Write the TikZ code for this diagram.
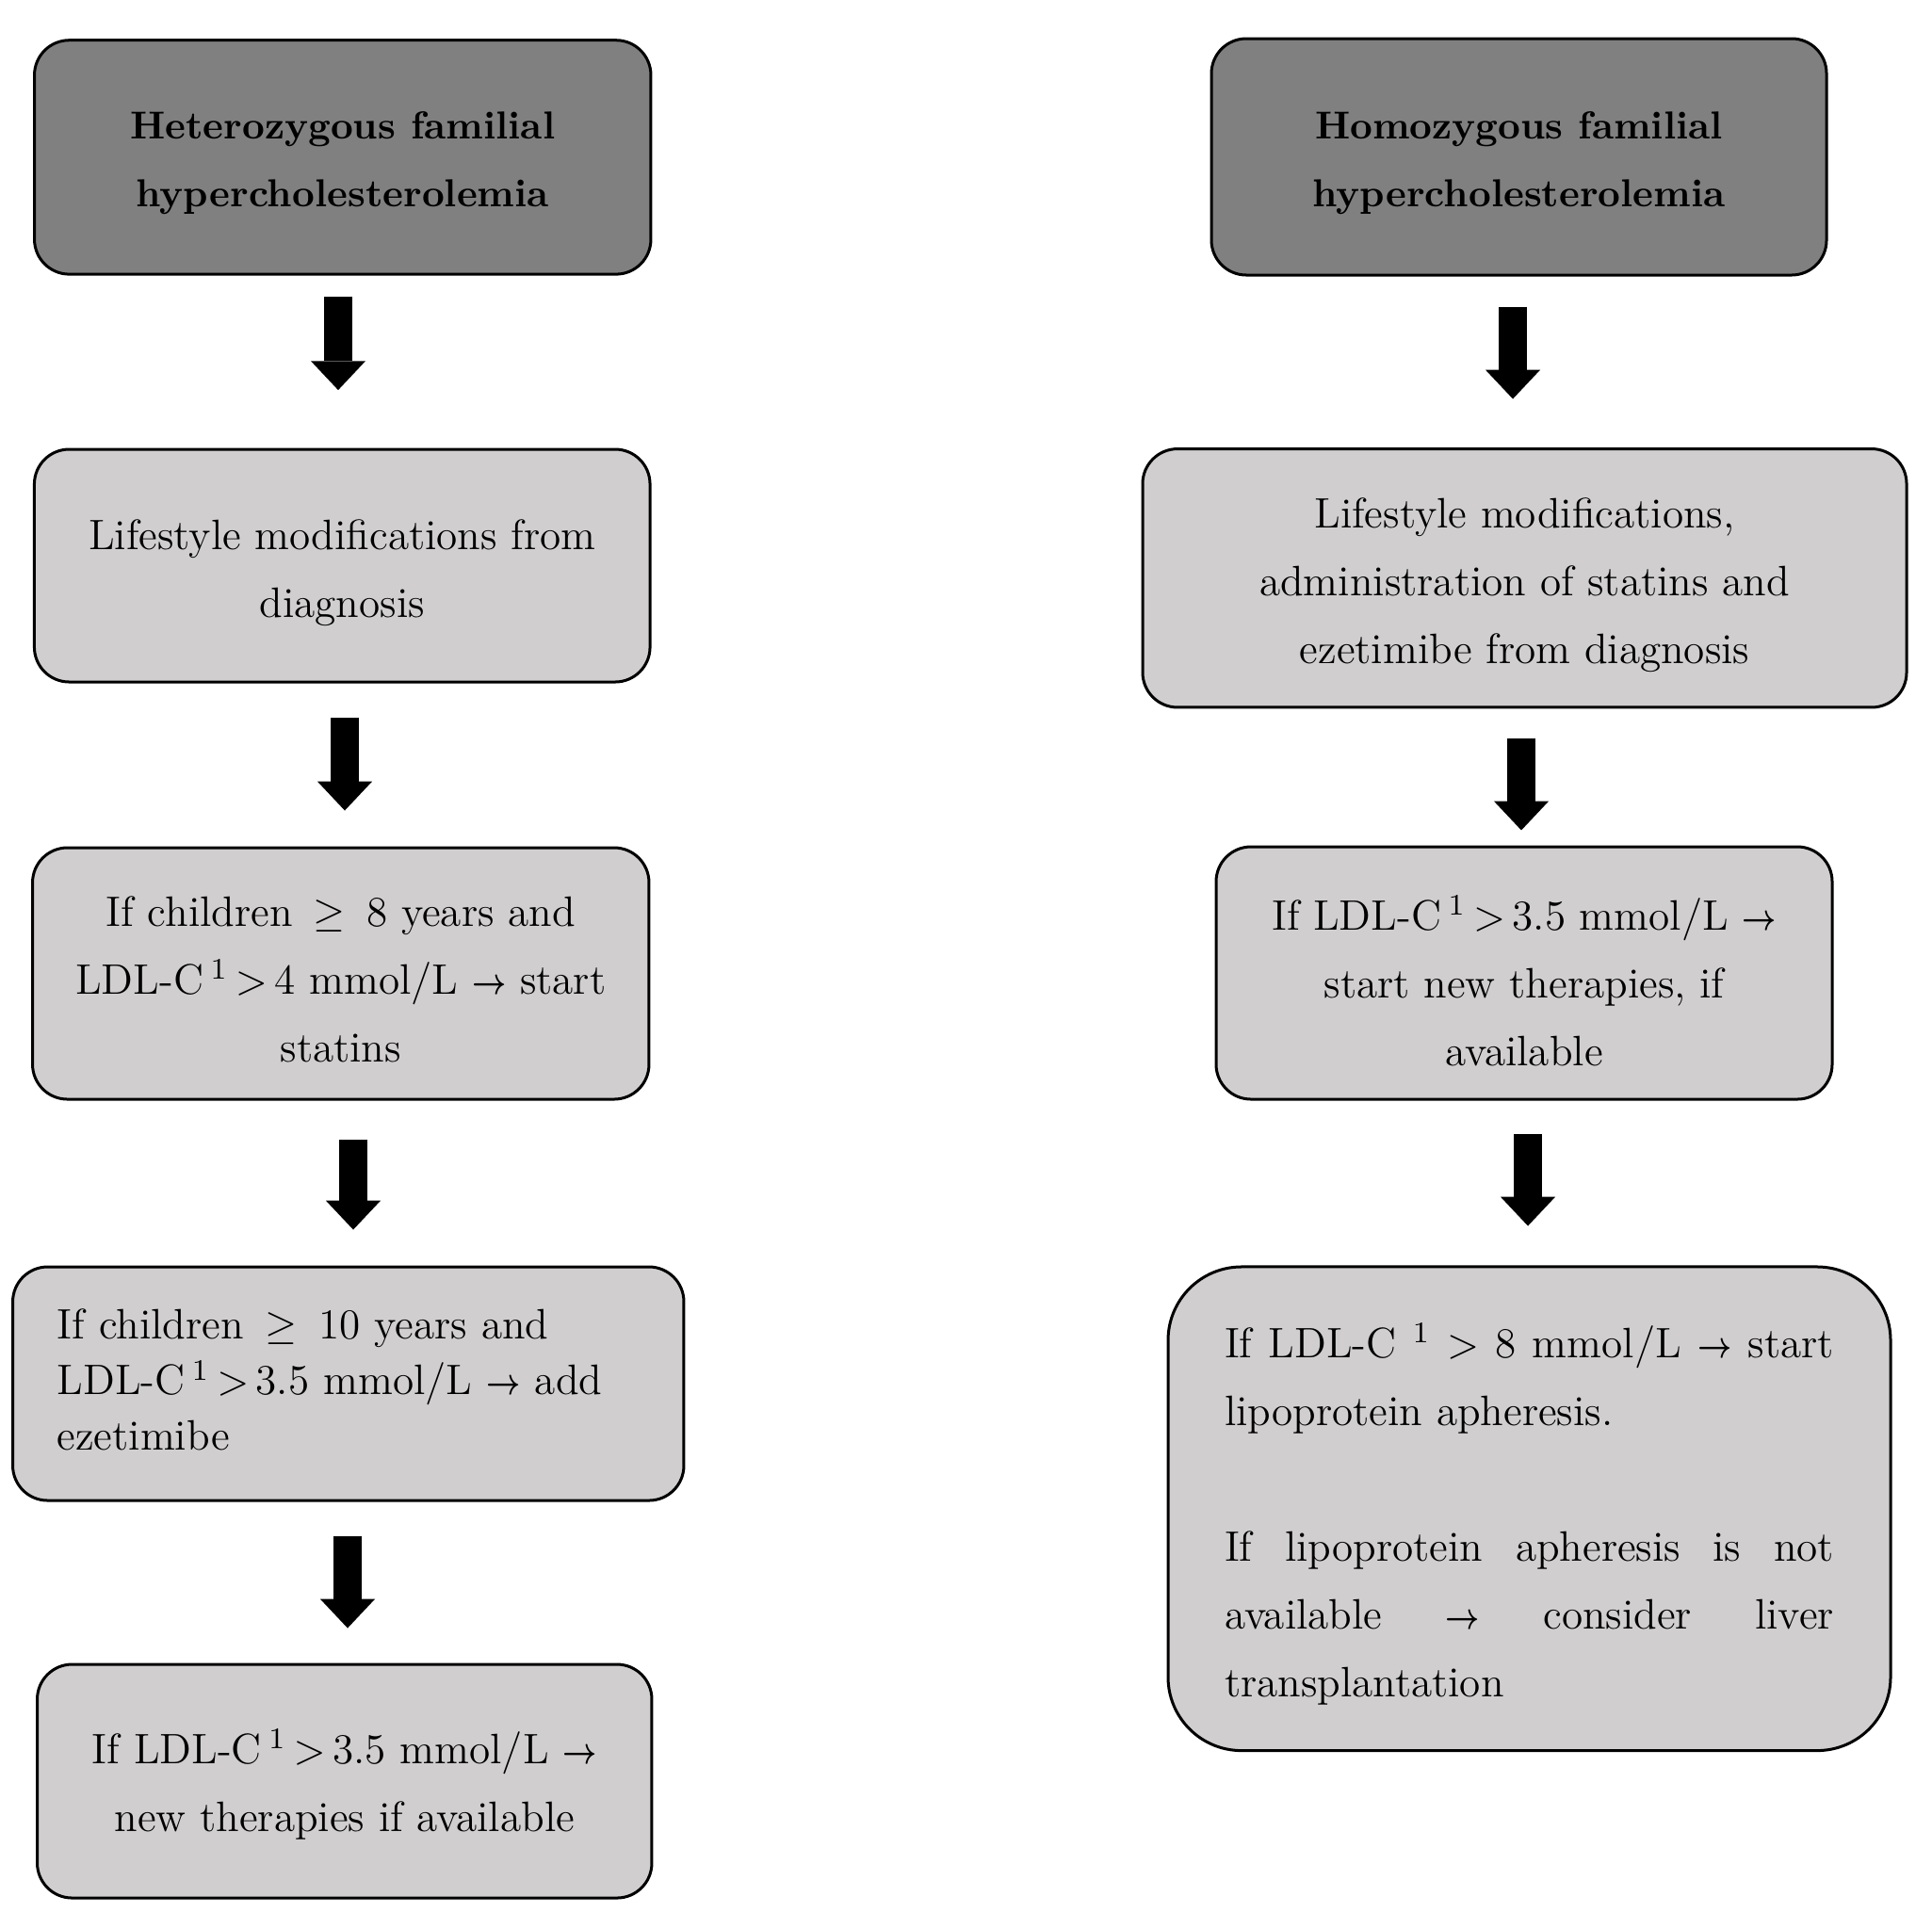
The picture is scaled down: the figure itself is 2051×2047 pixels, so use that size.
\documentclass[tikz,border=0pt]{standalone}
\usetikzlibrary{arrows.meta,calc}
\definecolor{darkbox}{RGB}{128,128,128}
\definecolor{lightbox}{RGB}{208,206,206}
\newcommand{\sone}{\,\textsuperscript{1}\,}
\newcommand{\rarr}{\scalebox{0.72}[0.9]{$\boldsymbol{\rightarrow}$}}
\newcommand{\geqsp}{~\,$\geq$~\,}
\newcommand{\upstr}[1]{\rule{0pt}{#1}}
\usepackage{amsmath}
\tikzset{
  box/.style={draw=black, line width=0.75pt, rounded corners=9.25pt, fill=lightbox,
    align=center, inner sep=0pt, font=\fontsize{11.3}{18}\selectfont},
  headbox/.style={box, fill=darkbox, font=\fontsize{10.35}{18}\selectfont\bfseries},
  barrow/.style={line width=7.35pt, -{Triangle[length=7.7pt,width=14.5pt,line width=0pt]}}
}
\begin{document}
\begin{tikzpicture}[x=0.25pt,y=-0.25pt]
\useasboundingbox (0,0) rectangle (2051,2047);
% left column
\node[headbox, minimum width=163.6pt, minimum height=62.1pt] (L1) at (363.75,166.9)
  {\upstr{10.5pt}Heterozygous familial\\hypercholesterolemia};
\node[box, minimum width=163.4pt, minimum height=61.75pt] (L2) at (363.25,600.5)
  {\upstr{11.8pt}Lifestyle modifications from\\diagnosis};
\node[box, minimum width=163.6pt, minimum height=66.75pt] (L3) at (361.75,1033.5)
  {\upstr{11.1pt}If children\geqsp 8 years and\\LDL-C\sone$>$\,4 mmol/L \rarr{} start\\statins};
\node[box, minimum width=178.1pt, minimum height=62pt, align=left, text width=154.6pt,
  font=\fontsize{11.3}{14.75}\selectfont] (L4) at (369.75,1469)
  {If children\geqsp 10 years and\\LDL-C\sone$>$\,3.5 mmol/L \rarr{} add\\ezetimibe\rule[-2pt]{0pt}{0pt}};
\node[box, minimum width=163.1pt, minimum height=62pt] (L5) at (365.75,1891)
  {\upstr{10.8pt}If LDL-C\sone$>$\,3.5 mmol/L \rarr\\new therapies if available};
% right column
\node[headbox, minimum width=163.25pt, minimum height=62.75pt] (R1) at (1612.5,166.5)
  {\upstr{10.5pt}Homozygous familial\\hypercholesterolemia};
\node[box, minimum width=202.75pt, minimum height=68.6pt] (R2) at (1618.5,613.75)
  {\upstr{11.8pt}Lifestyle modifications,\\administration of statins and\\ezetimibe from diagnosis};
\node[box, minimum width=163.5pt, minimum height=67pt] (R3) at (1618,1033)
  {\upstr{13.1pt}If LDL-C\sone$>$\,3.5 mmol/L \rarr\\start new therapies, if\\available};
\node[box, rounded corners=19.5pt, minimum width=191.75pt, minimum height=128.4pt, align=left] (R4) at (1623.5,1601.75)
  {\makebox[161.75pt][s]{\upstr{12.1pt}If LDL-C \textsuperscript{1} $>$ 8 mmol/L \rarr{} start}\\
   lipoprotein apheresis.\\[18pt]
   \makebox[161.75pt][s]{If lipoprotein apheresis is not}\\
   \makebox[161.75pt][s]{available \rarr{} consider liver}\\
   \makebox[161.75pt][l]{transplantation}};
% arrows
\coordinate (a1s) at ($(L1.south)+(-4.75,22)$);  \coordinate (a1e) at ($(L1.south)+(-4.75,121.5)$);
\coordinate (a2s) at ($(L2.south)+(2.75,36)$);   \coordinate (a2e) at ($(L2.south)+(2.75,135)$);
\coordinate (a3s) at ($(L3.south)+(13.25,41)$);  \coordinate (a3e) at ($(L3.south)+(13.25,137)$);
\coordinate (a4s) at ($(L4.south)+(-0.75,36)$);  \coordinate (a4e) at ($(L4.south)+(-0.75,134)$);
\coordinate (b1s) at ($(R1.south)+(-6.5,32)$);   \coordinate (b1e) at ($(R1.south)+(-6.5,130)$);
\coordinate (b2s) at ($(R2.south)+(-3.5,32)$);   \coordinate (b2e) at ($(R2.south)+(-3.5,129)$);
\coordinate (b3s) at ($(R3.south)+(4,35.5)$);    \coordinate (b3e) at ($(R3.south)+(4,133)$);
\draw[barrow] (a1s) -- (a1e);
\draw[barrow] (a2s) -- (a2e);
\draw[barrow] (a3s) -- (a3e);
\draw[barrow] (a4s) -- (a4e);
\draw[barrow] (b1s) -- (b1e);
\draw[barrow] (b2s) -- (b2e);
\draw[barrow] (b3s) -- (b3e);
\end{tikzpicture}
\end{document}
